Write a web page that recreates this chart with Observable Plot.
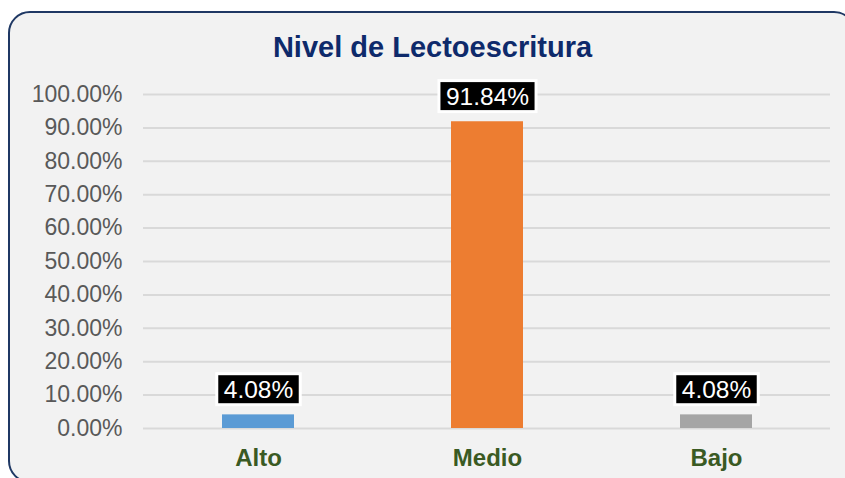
<!DOCTYPE html>
<html>
<head>
<meta charset="utf-8">
<script src="https://cdn.jsdelivr.net/npm/d3@7"></script>
<script src="https://cdn.jsdelivr.net/npm/@observablehq/plot@0.6"></script>
<style>
  html, body { margin: 0; padding: 0; background: #ffffff; }
  #wrap { position: relative; width: 845px; height: 478px; overflow: hidden; font-family: "Liberation Sans", Arial, sans-serif; }
  #frame { position: absolute; left: 8px; top: 11px; width: 848px; height: 472px; border: 2px solid #1f3864; border-radius: 22px; background: #f2f2f2; box-sizing: border-box; }
  #title { position: absolute; left: 10px; top: 29px; width: 845px; text-align: center; font-weight: bold; font-size: 29px; color: #0e2a6b; line-height: 36px; }
  #chart { position: absolute; left: 0; top: 70px; }
  #chart svg { background: transparent; overflow: visible; }
</style>
</head>
<body>
<div id="wrap">
  <div id="frame"></div>
  <div id="title">Nivel de Lectoescritura</div>
  <div id="chart"></div>
</div>
<script>
const categories = ["Alto", "Medio", "Bajo"];
const values = [0.0408, 0.9184, 0.0408];
const colors = ["#5b9bd5", "#ed7d31", "#a5a5a5"];
const yTicks = [0, 0.1, 0.2, 0.3, 0.4, 0.5, 0.6, 0.7, 0.8, 0.9, 1.0];

const data = categories.map((c, i) => ({category: c, value: values[i], color: colors[i]}));
const fmt = d3.format(".2%");

const chart = Plot.plot({
  width: 845,
  height: 408,
  marginLeft: 143,
  marginRight: 15,
  marginTop: 24,
  marginBottom: 50,
  style: {background: "transparent", fontFamily: "'Liberation Sans', Arial, sans-serif"},
  x: {domain: categories, paddingInner: 0.686, paddingOuter: 0.343},
  y: {domain: [0, 1]},
  marks: [
    Plot.gridY(yTicks, {stroke: "#d9d9d9", strokeOpacity: 1, strokeWidth: 2}),
    Plot.axisY(yTicks, {tickSize: 0, tickPadding: 21, tickFormat: fmt, fontSize: 23, fill: "#595959", label: null}),
    Plot.axisX({tickSize: 0, tickPadding: 20, fontSize: 24, fontWeight: "bold", fill: "#3a5a23", label: null}),
    Plot.barY(data, {x: "category", y: "value", fill: "color"}),
    Plot.text(data, {x: "category", y: "value", text: d => fmt(d.value), dy: -25, lineAnchor: "middle", fill: "white", fontSize: 24.5, className: "vlabel"})
  ]
});
document.getElementById("chart").appendChild(chart);

// draw black boxes with white border behind the data labels
d3.select(chart).selectAll("g.vlabel text").each(function() {
  const b = this.getBBox();
  const t = this.getAttribute("transform");
  d3.select(this.parentNode).insert("rect", () => this)
    .attr("transform", t)
    .attr("x", b.x - 7).attr("y", b.y - 2)
    .attr("width", b.width + 14).attr("height", b.height + 4)
    .attr("fill", "black").attr("stroke", "white").attr("stroke-width", 3);
});
</script>
</body>
</html>
